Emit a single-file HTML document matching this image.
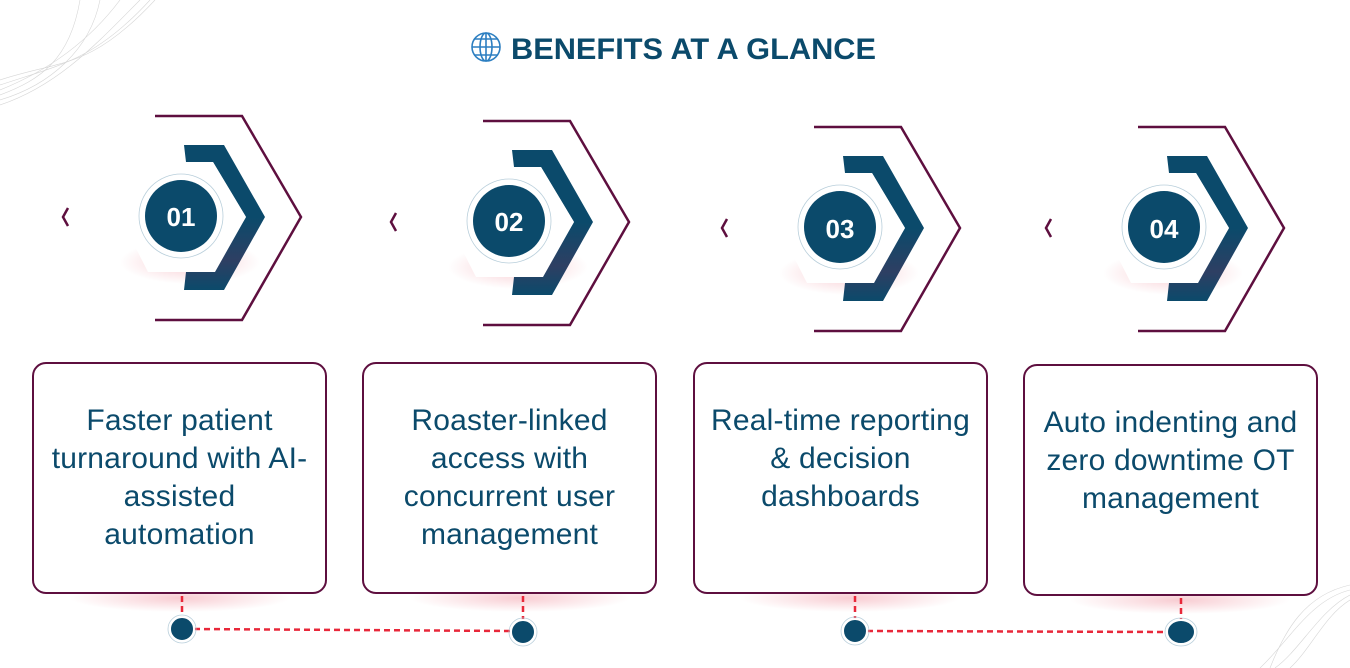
<!DOCTYPE html>
<html><head><meta charset="utf-8"><style>
html,body{margin:0;padding:0;background:#fff;}
body{width:1350px;height:668px;overflow:hidden;position:relative;font-family:"Liberation Sans",sans-serif;}
.box{position:absolute;width:295px;height:232px;border:2.5px solid #5e0f3f;border-radius:14px;box-sizing:border-box;background:#fff;color:#0b4a6b;font-size:30px;line-height:38px;letter-spacing:0.2px;text-align:center;padding-top:38px;white-space:nowrap;}
</style></head><body>
<svg width="1350" height="668" style="position:absolute;left:0;top:0">
<defs>
<radialGradient id="sh" cx="0.5" cy="0.5" r="0.5"><stop offset="0" stop-color="#f2a3ad" stop-opacity="0.55"/><stop offset="1" stop-color="#f2a3ad" stop-opacity="0"/></radialGradient>
<linearGradient id="bl" x1="0" y1="0" x2="0" y2="1"><stop offset="0.5" stop-color="#0b4a6b"/><stop offset="0.8" stop-color="#2e3f63"/><stop offset="1" stop-color="#0b4a6b"/></linearGradient>
<g id="grp">
<ellipse cx="190" cy="262" rx="70" ry="22" fill="url(#sh)"/>
<polyline points="155,116 242,116 301,217 242,320 155,320" fill="none" stroke="#5e0f3f" stroke-width="2.5"/>
<polyline points="68,208 63,217 68,226" fill="none" stroke="#5e0f3f" stroke-width="2.5"/>
<polygon points="184,145 224,145 265,217 224,290 184,290 186,272 213,272 246,217 213,162 186,162" fill="url(#bl)"/>
<polygon points="140,180 148,162 213,162 246,217 215,272 148,272 120,217" fill="#fff"/>
<circle cx="181" cy="216" r="42" fill="#fff" stroke="#b9cfdb" stroke-width="0.8"/>
<circle cx="181" cy="216" r="36" fill="#0b4a6b"/>
</g>
</defs>
<g stroke="#ccc" stroke-width="0.6" fill="none" opacity="0.8">
<path d="M0,80 C60,60 90,70 155,0"/><path d="M0,85 C60,65 95,60 150,0"/><path d="M0,90 C50,70 90,40 120,0"/><path d="M0,95 C40,80 70,60 80,0"/><path d="M0,100 C50,85 90,50 100,0"/><path d="M0,105 C60,85 100,40 140,0"/>
<path d="M1350,590 C1310,600 1290,640 1260,668"/><path d="M1350,595 C1320,610 1300,650 1275,668"/><path d="M1350,600 C1325,615 1310,650 1290,668"/><path d="M1350,585 C1305,595 1285,630 1270,668"/>
</g>
<use href="#grp"/>
<use href="#grp" transform="translate(328,5)"/>
<use href="#grp" transform="translate(659,11)"/>
<use href="#grp" transform="translate(983,11)"/>
<g fill="#fff" font-weight="bold" font-size="26" text-anchor="middle" font-family="Liberation Sans">
<text x="181" y="226">01</text><text x="509" y="231">02</text><text x="840" y="238">03</text><text x="1164" y="238">04</text>
</g>
<g fill="url(#sh)">
<ellipse cx="180" cy="598" rx="110" ry="14"/><ellipse cx="520" cy="598" rx="110" ry="14"/><ellipse cx="850" cy="598" rx="110" ry="14"/><ellipse cx="1180" cy="600" rx="110" ry="14"/>
</g>
<g stroke="#e8283a" stroke-width="2.5" stroke-dasharray="6,4" fill="none">
<line x1="182" y1="596" x2="182" y2="618"/><line x1="523" y1="596" x2="523" y2="621"/><line x1="855" y1="596" x2="855" y2="620"/><line x1="1181" y1="598" x2="1181" y2="621"/>
<line x1="194" y1="629" x2="511" y2="631"/><line x1="867" y1="631" x2="1168" y2="632"/>
</g>
<g fill="#0b4a6b" stroke="#fff" stroke-width="2">
<circle cx="182" cy="629" r="12"/><circle cx="523" cy="632" r="12"/><circle cx="855" cy="631" r="12"/><ellipse cx="1181" cy="632" rx="14" ry="12"/>
</g>
<g fill="none" stroke="#b9cfdb" stroke-width="0.8">
<circle cx="182" cy="629" r="14"/><circle cx="523" cy="632" r="14"/><circle cx="855" cy="631" r="14"/><ellipse cx="1181" cy="632" rx="16" ry="14"/>
</g>
<g fill="none" stroke="#2d7fc1" stroke-width="1.6">
<circle cx="486" cy="47" r="14"/><ellipse cx="486" cy="47" rx="6" ry="14"/><line x1="472" y1="47" x2="500" y2="47"/><path d="M474,39 H498 M474,55 H498"/><line x1="486" y1="33" x2="486" y2="61"/>
</g>
<text x="511" y="59" fill="#0b4a6b" font-weight="bold" font-size="30" textLength="365" lengthAdjust="spacingAndGlyphs" font-family="Liberation Sans">BENEFITS AT A GLANCE</text>
</svg>
<div class="box" style="left:32px;top:362px">Faster patient<br>turnaround with AI-<br>assisted<br>automation</div>
<div class="box" style="left:362px;top:362px">Roaster-linked<br>access with<br>concurrent user<br>management</div>
<div class="box" style="left:693px;top:362px">Real-time reporting<br>&amp; decision<br>dashboards</div>
<div class="box" style="left:1023px;top:364px">Auto indenting and<br>zero downtime OT<br>management</div>
</body></html>
